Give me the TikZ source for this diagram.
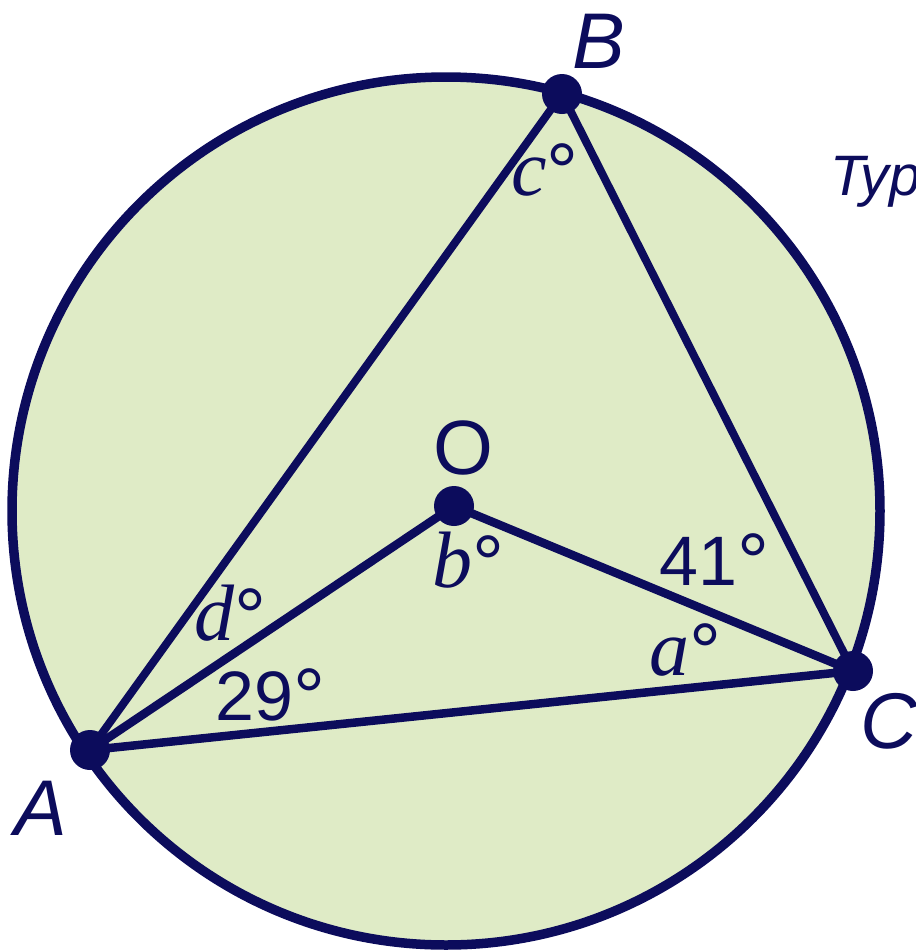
\documentclass[tikz,border=0pt]{standalone}
\usepackage{fontspec}
\setmainfont{Liberation Sans}
\newfontfamily\serifit{Liberation Serif}
\definecolor{navy}{RGB}{12,12,92}
\definecolor{leaf}{RGB}{223,235,198}
\newcommand{\dg}{\raisebox{-4pt}{\fontsize{80}{80}\selectfont\upshape\rmfamily °}}
\begin{document}
\begin{tikzpicture}[x=1pt,y=-1pt,line join=round,line cap=round,
  chord/.style={draw=navy,line width=8pt},
  thickchord/.style={draw=navy,line width=8.5pt},
  dot/.style={circle,fill=navy,inner sep=0pt,minimum size=40pt},
  ptlabel/.style={text=navy,inner sep=0pt,anchor=base west,font=\fontsize{79}{82}\selectfont\itshape},
  cenlabel/.style={text=navy,inner sep=0pt,anchor=base west,font=\fontsize{77}{80}\selectfont},
  numlabel/.style={text=navy,inner sep=0pt,anchor=base west,font=\fontsize{70}{74}\selectfont},
  varlabel/.style={text=navy,inner sep=0pt,anchor=base west,font=\fontsize{80}{84}\serifit\itshape}]
\useasboundingbox (0,0) rectangle (916,951);
\clip (0,0) rectangle (916,951);
% circle
\coordinate (Ctr) at (446,511);
\fill[leaf] (Ctr) circle[radius=434pt];
\draw[navy,line width=9.5pt] (Ctr) circle[radius=434pt];
% points
\coordinate (A) at (90,750);
\coordinate (B) at (562,94);
\coordinate (C) at (853,671);
\coordinate (O) at (454,506);
% segments
\draw[chord] (A) -- (B);
\draw[chord] (B) -- (C);
\draw[thickchord] (A) -- (C);
\draw[thickchord] (A) -- (O);
\draw[thickchord] (O) -- (C);
% dots
\node[dot] (dA) at (A) {};
\node[dot] (dB) at (B) {};
\node[dot] (dC) at (C) {};
\node[dot] (dO) at (O) {};
% point labels
\node[ptlabel] (lB) at (572,68) {B};
\node[ptlabel] (lA) at (14,835) {A};
\node[ptlabel] (lC) at (860,748) {C};
\node[cenlabel] (lO) at (433,474) {O};
% angle labels
\node[varlabel] (lc) at (511,195) {c\dg};
\node[varlabel] (lb) at (432,587) {b\dg};
\node[varlabel] (ld) at (194,640) {d\dg};
\node[varlabel] (la) at (649,675) {a\dg};
\node[numlabel] (l29) at (215,720) {29\dg};
\node[numlabel] (l41) at (659,585) {41\dg};
% cut-off text at the right edge
\node[text=navy,inner sep=0pt,anchor=base west,font=\fontsize{57}{60}\selectfont\itshape] (typ) at (830,195) {Typ};
\end{tikzpicture}
\end{document}
